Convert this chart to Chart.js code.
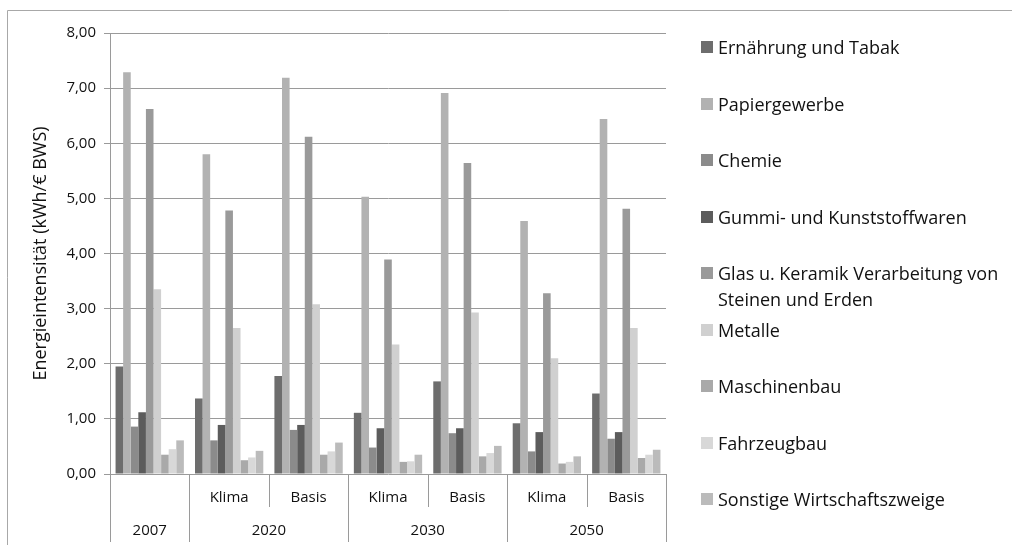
<!DOCTYPE html>
<html lang="de">
<head>
<meta charset="utf-8">
<title>Energieintensität</title>
<script src="https://cdn.jsdelivr.net/npm/chart.js@4/dist/chart.umd.min.js"></script>
<style>
    html, body { margin: 0; padding: 0; background: #fff; }
    #wrap { position: relative; width: 1013px; height: 545px; overflow: hidden; font-family: 'Open Sans', sans-serif; }
    #wrap canvas { position: absolute; left: 0; top: 0; }
    #legend { position: absolute; left: 701px; top: 0; }
    .legend-item { position: absolute; left: 0; white-space: nowrap; font-size: 18px; line-height: 26px; color: #111; }
    .legend-box { position: absolute; left: 0; top: 7px; width: 12px; height: 12px; }
    .legend-text { position: absolute; left: 17px; top: 0; }
</style>
</head>
<body>
<div id="wrap">
    <canvas id="energyChart" width="1013" height="545"></canvas>
    <div id="legend"></div>
</div>
<script>
// Kategorien (untere Zeile = Jahre, obere Zeile = Szenario)
const scenarioLabels = ['', 'Klima', 'Basis', 'Klima', 'Basis', 'Klima', 'Basis'];
const yearLabels = ['2007', '2020', '2030', '2050'];
const yearSpans = [1, 2, 2, 2];

const yTicks = [0, 1, 2, 3, 4, 5, 6, 7, 8];

const sectorNames = [
    'Ernährung und Tabak',
    'Papiergewerbe',
    'Chemie',
    'Gummi- und Kunststoffwaren',
    ['Glas u. Keramik Verarbeitung von', 'Steinen und Erden'],
    'Metalle',
    'Maschinenbau',
    'Fahrzeugbau',
    'Sonstige Wirtschaftszweige'
];
const sectorColors = ['#6d6d6d', '#b2b2b2', '#8b8b8b', '#5c5c5c', '#9a9a9a', '#d0d0d0', '#a9a9a9', '#d8d8d8', '#bbbbbb'];

// Werte in kWh/€ BWS, je Kategorie
const ernaehrung = [1.95, 1.37, 1.78, 1.11, 1.68, 0.92, 1.46];
const papier     = [7.29, 5.80, 7.19, 5.03, 6.91, 4.59, 6.44];
const chemie     = [0.86, 0.61, 0.80, 0.48, 0.74, 0.41, 0.64];
const gummi      = [1.12, 0.89, 0.89, 0.83, 0.83, 0.76, 0.76];
const glas       = [6.62, 4.78, 6.12, 3.89, 5.64, 3.28, 4.81];
const metalle    = [3.35, 2.65, 3.08, 2.35, 2.93, 2.10, 2.65];
const maschinen  = [0.35, 0.25, 0.35, 0.22, 0.32, 0.19, 0.29];
const fahrzeug   = [0.45, 0.30, 0.41, 0.23, 0.38, 0.22, 0.35];
const sonstige   = [0.61, 0.42, 0.57, 0.35, 0.51, 0.32, 0.44];

const seriesValues = [ernaehrung, papier, chemie, gummi, glas, metalle, maschinen, fahrzeug, sonstige];

const FONT = "'Open Sans', sans-serif";
const LINE = '#9a9a9a';

// Rahmen + zweizeilige Kategorienachse
const axisPlugin = {
    id: 'axisLabels',
    beforeDraw(chart) {
        const ctx = chart.ctx;
        ctx.save();
        ctx.strokeStyle = '#a8a8a8';
        ctx.lineWidth = 1;
        ctx.beginPath();
        ctx.moveTo(7.5, 545);
        ctx.lineTo(7.5, 10.5);
        ctx.lineTo(1012, 10.5);
        ctx.stroke();
        ctx.restore();
    },
    afterDraw(chart) {
        const ctx = chart.ctx;
        const x = chart.scales.x;
        const area = chart.chartArea;
        const n = scenarioLabels.length;
        const w = (x.right - x.left) / n;
        const rowTop = area.bottom;

        // Trennlinien: lang an Jahresgrenzen, kurz zwischen Szenarien
        const longAt = [0];
        let acc = 0;
        yearSpans.forEach(s => { acc += s; longAt.push(acc); });

        ctx.save();
        ctx.strokeStyle = LINE;
        ctx.lineWidth = 1;
        for (let i = 0; i <= n; i++) {
            const px = Math.round(x.left + i * w) + 0.5;
            const end = longAt.includes(i) ? 542 : 507;
            ctx.beginPath();
            ctx.moveTo(px, rowTop);
            ctx.lineTo(px, end);
            ctx.stroke();
        }

        ctx.fillStyle = '#111';
        ctx.font = '15px ' + FONT;
        ctx.textAlign = 'center';
        ctx.textBaseline = 'middle';
        scenarioLabels.forEach((lbl, i) => {
            if (lbl) ctx.fillText(lbl, x.getPixelForValue(i), 498);
        });

        let start = 0;
        yearLabels.forEach((yr, i) => {
            const cx = x.left + (start + yearSpans[i] / 2) * w;
            ctx.fillText(yr, cx, 531);
            start += yearSpans[i];
        });
        ctx.restore();
    }
};

function buildLegend() {
    const legend = document.getElementById('legend');
    sectorNames.forEach((name, i) => {
        const item = document.createElement('div');
        item.className = 'legend-item';
        item.style.top = (34 + i * 56.5) + 'px';
        const lines = Array.isArray(name) ? name : [name];
        item.innerHTML = `
            <div class="legend-box" style="background:${sectorColors[i]}"></div>
            <div class="legend-text">${lines.join('<br>')}</div>
        `;
        legend.appendChild(item);
    });
}

function buildChart() {
    const ctx = document.getElementById('energyChart').getContext('2d');
    new Chart(ctx, {
        type: 'bar',
        data: {
            labels: scenarioLabels.map((s, i) => s || yearLabels[0]),
            datasets: seriesValues.map((vals, i) => ({
                label: Array.isArray(sectorNames[i]) ? sectorNames[i].join(' ') : sectorNames[i],
                data: vals,
                backgroundColor: sectorColors[i],
                borderWidth: 0,
                barPercentage: 1.0,
                categoryPercentage: 0.86
            }))
        },
        options: {
            responsive: false,
            animation: false,
            layout: { padding: { left: 0, top: 33, right: 347, bottom: 0 } },
            plugins: {
                legend: { display: false },
                tooltip: { enabled: false }
            },
            scales: {
                x: {
                    grid: { display: false },
                    border: { display: false },
                    ticks: { display: false },
                    afterFit: scale => { scale.height = 71; }
                },
                y: {
                    min: 0,
                    max: 8,
                    afterBuildTicks: scale => { scale.ticks = yTicks.map(v => ({ value: v })); },
                    ticks: {
                        color: '#111',
                        padding: 8,
                        font: { family: FONT, size: 15 },
                        callback: v => v.toFixed(2).replace('.', ',')
                    },
                    grid: { color: LINE, lineWidth: 1, tickLength: 6 },
                    border: { color: LINE },
                    title: {
                        display: true,
                        text: 'Energieintensität (kWh/€ BWS)',
                        color: '#111',
                        font: { family: FONT, size: 18 },
                        padding: { top: 30, bottom: 0 }
                    },
                    afterFit: scale => { scale.width = 110; }
                }
            }
        },
        plugins: [axisPlugin]
    });
}

document.addEventListener('DOMContentLoaded', () => {
    buildLegend();
    buildChart();
});
</script>
</body>
</html>
